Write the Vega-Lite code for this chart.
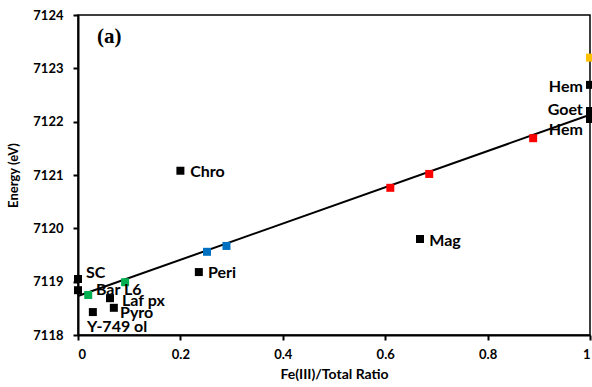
{
  "$schema": "https://vega.github.io/schema/vega-lite/v6.json",
  "width": 512,
  "height": 320,
  "autosize": "none",
  "padding": {"left": 78, "top": 15, "right": 2, "bottom": 52},
  "background": "white",
  "config": {
    "view": {"stroke": "black", "strokeWidth": 1.5},
    "font": "Lato"
  },
  "datasets": {
    "pts": [
      {"ratio": 0, "energy": 7119.05, "group": "black"},
      {"ratio": 0, "energy": 7118.84, "group": "black"},
      {"ratio": 0.02, "energy": 7118.75, "group": "green"},
      {"ratio": 0.092, "energy": 7118.99, "group": "green"},
      {"ratio": 0.0625, "energy": 7118.69, "group": "black"},
      {"ratio": 0.07, "energy": 7118.51, "group": "black"},
      {"ratio": 0.029, "energy": 7118.43, "group": "black"},
      {"ratio": 0.2, "energy": 7121.08, "group": "black"},
      {"ratio": 0.236, "energy": 7119.18, "group": "black"},
      {"ratio": 0.252, "energy": 7119.56, "group": "blue"},
      {"ratio": 0.29, "energy": 7119.67, "group": "blue"},
      {"ratio": 0.61, "energy": 7120.76, "group": "red"},
      {"ratio": 0.686, "energy": 7121.02, "group": "red"},
      {"ratio": 0.668, "energy": 7119.8, "group": "black"},
      {"ratio": 0.889, "energy": 7121.69, "group": "red"},
      {"ratio": 1, "energy": 7122.69, "group": "black"},
      {"ratio": 1, "energy": 7122.2, "group": "black"},
      {"ratio": 1, "energy": 7122.05, "group": "black"},
      {"ratio": 1, "energy": 7123.2, "group": "yellow"}
    ],
    "fit": [
      {"ratio": 0, "energy": 7118.73},
      {"ratio": 1, "energy": 7122.13}
    ],
    "labels": [
      {"ratio": 0.0156, "energy": 7119.16, "label": "SC", "side": "left"},
      {"ratio": 0.035, "energy": 7118.84, "label": "Bar L6", "side": "left"},
      {"ratio": 0.086, "energy": 7118.64, "label": "Laf px", "side": "left"},
      {"ratio": 0.082, "energy": 7118.41, "label": "Pyro", "side": "left"},
      {"ratio": 0.0176, "energy": 7118.15, "label": "Y-749 ol", "side": "left"},
      {"ratio": 0.219, "energy": 7121.06, "label": "Chro", "side": "left"},
      {"ratio": 0.254, "energy": 7119.16, "label": "Peri", "side": "left"},
      {"ratio": 0.686, "energy": 7119.76, "label": "Mag", "side": "left"},
      {"ratio": 0.986, "energy": 7122.65, "label": "Hem", "side": "right"},
      {"ratio": 0.986, "energy": 7122.22, "label": "Goet", "side": "right"},
      {"ratio": 0.986, "energy": 7121.84, "label": "Hem", "side": "right"}
    ],
    "panel": [
      {"ratio": 0.037, "energy": 7123.59, "label": "(a)"}
    ]
  },
  "encoding": {
    "x": {
      "field": "ratio", "type": "quantitative",
      "scale": {"domain": [0, 1], "nice": false},
      "axis": {
        "values": [0, 0.2, 0.4, 0.6, 0.8, 1],
        "labelExpr": "datum.value === 0 ? '0' : datum.value === 1 ? '1' : format(datum.value, '.1f')",
        "title": "Fe(III)/Total Ratio",
        "grid": false,
        "domainColor": "black", "domainWidth": 2,
        "tickColor": "black", "tickWidth": 2, "tickSize": 5,
        "labelFont": "Lato", "labelFontSize": 13, "labelFontWeight": "bold", "labelColor": "black",
        "labelPadding": 8,
        "titleFont": "Lato", "titleFontSize": 14, "titleFontWeight": "bold", "titleColor": "black",
        "titlePadding": 6
      }
    },
    "y": {
      "field": "energy", "type": "quantitative",
      "scale": {"domain": [7118, 7124], "nice": false, "zero": false},
      "axis": {
        "values": [7118, 7119, 7120, 7121, 7122, 7123, 7124],
        "format": "d",
        "title": "Energy (eV)",
        "grid": false,
        "domainColor": "black", "domainWidth": 2,
        "tickColor": "black", "tickWidth": 2, "tickSize": 5,
        "labelFont": "Lato", "labelFontSize": 13, "labelFontWeight": "bold", "labelColor": "black",
        "labelPadding": 10,
        "titleFont": "Lato", "titleFontSize": 13, "titleFontWeight": "bold", "titleColor": "black",
        "titlePadding": 12
      }
    }
  },
  "layer": [
    {
      "data": {"name": "fit"},
      "mark": {"type": "line", "color": "black", "strokeWidth": 2},
      "encoding": {}
    },
    {
      "data": {"name": "pts"},
      "mark": {"type": "point", "shape": "square", "filled": true, "size": 64, "opacity": 1},
      "encoding": {
        "color": {
          "field": "group", "type": "nominal",
          "scale": {"domain": ["black", "green", "blue", "red", "yellow"], "range": ["#000000", "#00B050", "#0070C0", "#FF0000", "#FFC000"]},
          "legend": null
        }
      }
    },
    {
      "data": {"name": "labels"},
      "transform": [{"filter": "datum.side === 'left'"}],
      "mark": {"type": "text", "align": "left", "baseline": "middle", "font": "Lato", "fontSize": 16, "fontWeight": "bold", "color": "black"},
      "encoding": {"text": {"field": "label"}}
    },
    {
      "data": {"name": "labels"},
      "transform": [{"filter": "datum.side === 'right'"}],
      "mark": {"type": "text", "align": "right", "baseline": "middle", "font": "Lato", "fontSize": 16, "fontWeight": "bold", "color": "black"},
      "encoding": {"text": {"field": "label"}}
    },
    {
      "data": {"name": "panel"},
      "mark": {"type": "text", "align": "left", "baseline": "middle", "font": "Liberation Serif", "fontSize": 21, "fontWeight": "bold", "color": "black"},
      "encoding": {"text": {"field": "label"}}
    }
  ]
}
